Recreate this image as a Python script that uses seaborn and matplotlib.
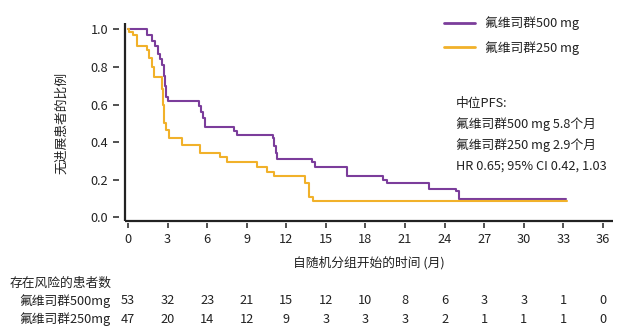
import matplotlib
matplotlib.use("Agg")
import matplotlib.pyplot as plt
import matplotlib.transforms as mtransforms
import seaborn as sns
import pandas as pd

sns.set_theme(style="white")
plt.rcParams['font.family'] = ['Noto Sans CJK SC', 'DejaVu Sans']

# ---------------- data ----------------
series_names = ["氟维司群500 mg", "氟维司群250 mg"]
colors = ["#7B3D9B", "#F1B12A"]

t_500 = [0, 1.45, 1.8, 2.05, 2.3, 2.45, 2.6, 2.7, 2.78, 2.88, 3.05, 5.35, 5.55, 5.72, 5.87,
         8.0, 8.26, 11.0, 11.1, 11.2, 11.3, 13.94, 14.2, 16.6, 19.3, 19.67, 22.8, 24.9, 25.1, 33.2]
s_500 = [1.0, 0.97, 0.94, 0.91, 0.87, 0.84, 0.81, 0.75, 0.70, 0.64, 0.62, 0.59, 0.56, 0.53, 0.48,
         0.46, 0.44, 0.42, 0.38, 0.34, 0.31, 0.295, 0.265, 0.22, 0.20, 0.18, 0.152, 0.14, 0.10, 0.10]

t_250 = [0, 0.05, 0.4, 0.68, 1.44, 1.56, 1.82, 1.94, 2.6, 2.68, 2.75, 2.9, 3.1, 4.1, 5.48,
         7.0, 7.5, 9.77, 10.5, 11.03, 13.4, 13.7, 14.06, 33.25]
s_250 = [1.0, 0.985, 0.97, 0.91, 0.89, 0.85, 0.80, 0.745, 0.68, 0.60, 0.50, 0.465, 0.42, 0.386, 0.344,
         0.32, 0.292, 0.268, 0.242, 0.221, 0.18, 0.11, 0.088, 0.088]

x_ticks = [0, 3, 6, 9, 12, 15, 18, 21, 24, 27, 30, 33, 36]
y_ticks = [0.0, 0.2, 0.4, 0.6, 0.8, 1.0]
y_tick_labels = ["0.0", "0.2", "0.4", "0.6", "0.8", "1.0"]

risk_title = "存在风险的患者数"
risk_labels = ["氟维司群500mg", "氟维司群250mg"]
risk_500 = [53, 32, 23, 21, 15, 12, 10, 8, 6, 3, 3, 1, 0]
risk_250 = [47, 20, 14, 12, 9, 3, 3, 3, 2, 1, 1, 1, 0]

annot_lines = ["中位PFS:", "氟维司群500 mg 5.8个月", "氟维司群250 mg 2.9个月",
               "HR 0.65; 95% CI 0.42, 1.03"]
x_label = "自随机分组开始的时间 (月)"
y_label = "无进展患者的比例"

df = pd.concat([
    pd.DataFrame({"t": t_500, "s": s_500, "arm": series_names[0]}),
    pd.DataFrame({"t": t_250, "s": s_250, "arm": series_names[1]}),
], ignore_index=True)

# ---------------- figure ----------------
W, H = 620, 333
fig = plt.figure(figsize=(W / 100, H / 100), dpi=100)
ax_left, ax_right = 125 / W, 613 / W
ax_bottom = (H - 220.7) / H
ax_top = (H - 23.3) / H
ax = fig.add_axes([ax_left, ax_bottom, ax_right - ax_left, ax_top - ax_bottom])

sns.lineplot(data=df, x="t", y="s", hue="arm", palette=colors, hue_order=series_names,
             drawstyle="steps-post", linewidth=1.5, ax=ax, legend=True, estimator=None)

ax.set_xlim(-0.23, 36.77)
ax.set_ylim(-0.018, 1.032)
ax.set_xticks(x_ticks)
ax.set_xticklabels([str(v) for v in x_ticks])
ax.set_yticks(y_ticks)
ax.set_yticklabels(y_tick_labels)

FS = 9.2
ink = "#222222"
for sp in ["top", "right"]:
    ax.spines[sp].set_visible(False)
ax.spines["left"].set_position(("outward", 4))
ax.spines["bottom"].set_position(("outward", 2))
ax.spines["left"].set_color("none")
ax.spines["bottom"].set_color("none")
# visible axis lines at the axes edges
ax.plot([0, 0], [0, 1], transform=ax.transAxes, color=ink, lw=1.6, clip_on=False,
        solid_capstyle="butt")
ax.plot([0, 1], [0, 0], transform=ax.transAxes, color=ink, lw=1.6, clip_on=False,
        solid_capstyle="butt")

ax.tick_params(axis="y", direction="out", length=4.5, width=1.1, color=ink, pad=3.5,
               labelsize=FS, labelcolor=ink, left=True)
ax.tick_params(axis="x", direction="out", length=3.8, width=1.1, color=ink, pad=3,
               labelsize=FS, labelcolor=ink, bottom=True)

ax.set_xlabel(x_label, fontsize=FS, color=ink)
ax.xaxis.set_label_coords(0.5, -(262.3 - 220.7) / 197.4, transform=ax.transAxes)
ax.xaxis.label.set_va("center")
ax.set_ylabel(y_label, fontsize=FS, color=ink)
ax.yaxis.set_label_coords((62 - 125) / 488, (220.7 - 123) / 197.4)
ax.yaxis.label.set_va("center")

# legend
leg = ax.legend(loc="upper left", bbox_to_anchor=(438 / W, 1 - 10 / H),
                bbox_transform=fig.transFigure, frameon=False, fontsize=FS,
                handlelength=2.4, handletextpad=0.75, labelspacing=0.85, borderpad=0)
for h in leg.get_lines():
    h.set_linewidth(2.0)
for t in leg.get_texts():
    t.set_color(ink)

# annotation
for i, line in enumerate(annot_lines):
    fig.text(456 / W, 1 - (103.3 + i * 21.1) / H, line, fontsize=FS, color=ink,
             ha="left", va="center")

# number at risk table
trans = mtransforms.blended_transform_factory(ax.transData, fig.transFigure)
fig.text(10 / W, 1 - 283.3 / H, risk_title, fontsize=FS, color=ink, ha="left", va="center")
for label, vals, yc in [(risk_labels[0], risk_500, 300.7), (risk_labels[1], risk_250, 319.3)]:
    fig.text(110 / W, 1 - yc / H, label, fontsize=FS, color=ink, ha="right", va="center")
    for xv, v in zip(x_ticks, vals):
        ax.text(xv, 1 - yc / H, str(v), transform=trans, fontsize=FS, color=ink,
                ha="center", va="center")

fig.savefig("out.png", dpi=100)
